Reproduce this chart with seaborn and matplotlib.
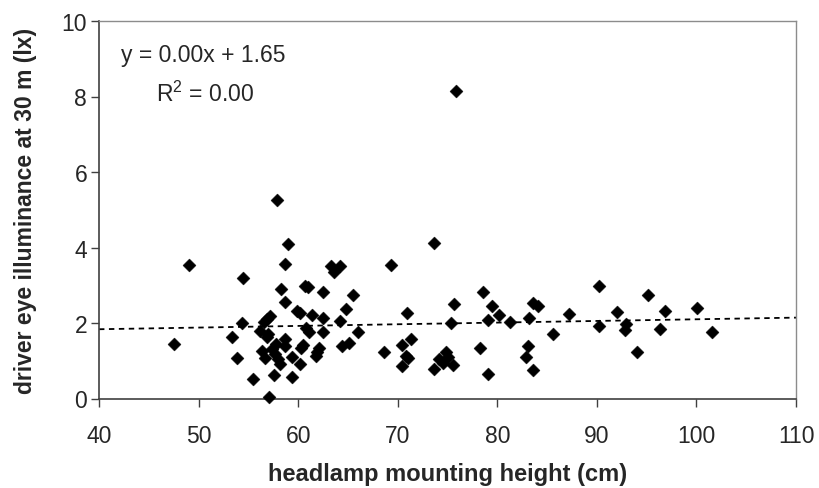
import matplotlib
matplotlib.use("Agg")
import matplotlib.pyplot as plt
import seaborn as sns
import numpy as np
import pandas as pd

# headlamp mounting height (cm)
height_cm = [
    57.9, 59.0, 58.7, 49.0, 54.5, 58.3, 58.7, 60.7, 61.0, 59.9,
    60.2, 54.4, 57.2, 56.9, 56.6, 56.2, 57.0, 53.4, 47.5, 58.7,
    58.7, 60.8, 60.5, 60.3, 56.4, 56.7, 57.4, 57.7, 58.0, 58.2,
    53.9, 59.4, 60.2, 55.5, 57.6, 59.4, 57.1, 57.8, 56.9,
    75.9, 73.6, 69.3, 63.3, 64.2, 63.6, 62.5, 65.5, 64.8, 61.4,
    62.5, 64.2, 61.1, 62.5, 66.0, 62.1, 61.9, 61.8, 64.4, 65.1,
    70.9, 71.3, 70.4, 70.8, 71.0, 70.4, 68.6, 75.7, 75.4, 74.8,
    74.1, 74.5, 75.6, 73.6, 75.0, 78.6, 79.5, 79.1, 80.2, 78.3,
    79.1, 81.3, 83.6, 84.1, 83.2, 83.1, 82.9, 83.6, 85.6, 87.2,
    90.2, 90.2, 92.0, 92.9, 92.8, 94.0, 95.1, 96.8, 96.3, 100.1,
    101.6,
]
# driver eye illuminance at 30 m (lx)
illuminance_lx = [
    5.26, 4.09, 3.56, 3.53, 3.20, 2.91, 2.56, 2.97, 2.96, 2.32,
    2.27, 2.01, 2.19, 2.10, 2.03, 1.79, 1.70, 1.62, 1.44, 1.57,
    1.39, 1.88, 1.42, 1.33, 1.26, 1.06, 1.31, 1.17, 1.04, 0.91,
    1.06, 1.09, 0.91, 0.51, 0.62, 0.58, 0.03, 1.45, 1.62,
    8.15, 4.13, 3.53, 3.50, 3.50, 3.34, 2.81, 2.74, 2.37, 2.22,
    2.12, 2.04, 1.75, 1.75, 1.77, 1.35, 1.22, 1.13, 1.38, 1.48,
    2.26, 1.57, 1.41, 1.13, 1.06, 0.86, 1.24, 2.50, 2.01, 1.22,
    1.04, 0.95, 0.88, 0.78, 1.10, 2.81, 2.45, 2.08, 2.21, 1.35,
    0.66, 2.03, 2.54, 2.45, 2.14, 1.39, 1.09, 0.76, 1.72, 2.25,
    2.97, 1.92, 2.28, 1.97, 1.82, 1.24, 2.74, 2.32, 1.84, 2.41,
    1.77,
]
x_ticks = [40, 50, 60, 70, 80, 90, 100, 110]
y_ticks = [0, 2, 4, 6, 8, 10]
equation_text = "y = 0.00x + 1.65"
r2_text = "R$^2$ = 0.00"
x_label = "headlamp mounting height (cm)"
y_label = "driver eye illuminance at 30 m (lx)"

df = pd.DataFrame({"height": height_cm, "lux": illuminance_lx})

sns.set_style("white")
plt.rcParams["font.family"] = ["Liberation Sans", "DejaVu Sans"]
plt.rcParams["mathtext.fontset"] = "custom"
plt.rcParams["mathtext.rm"] = "Liberation Sans"
plt.rcParams["mathtext.it"] = "Liberation Sans"
plt.rcParams["mathtext.bf"] = "Liberation Sans:bold"

W, H = 820, 489
L, R, T, B = 99, 796, 22, 399.5
fig = plt.figure(figsize=(W / 100, H / 100), dpi=100)
ax = fig.add_axes([L / W, 1 - B / H, (R - L) / W, (B - T) / H])

ax.set_xlim(40, 110)
ax.set_ylim(0, 10)

sns.scatterplot(data=df, x="height", y="lux", marker="D", s=44,
                color="black", edgecolor="black", linewidth=0.3,
                ax=ax, zorder=3, clip_on=False)
sns.regplot(data=df, x="height", y="lux", scatter=False, ci=None,
            truncate=False, ax=ax,
            line_kws=dict(color="black", lw=1.3, linestyle=(0, (3, 2.5)), zorder=2))

ax.set_xlim(40, 110)
ax.set_ylim(0, 10)
ax.set_xticks(x_ticks)
ax.set_yticks(y_ticks)
ax.set_xticklabels([str(v) for v in x_ticks], fontsize=16.5)
ax.set_yticklabels([str(v) for v in y_ticks], fontsize=16.5)
ax.tick_params(axis="both", direction="out", length=5.5, width=1, color="#404040",
               bottom=True, left=True)
ax.tick_params(axis="x", pad=13)
ax.tick_params(axis="y", pad=3)

for side in ["left", "bottom"]:
    ax.spines[side].set_color("#404040")
    ax.spines[side].set_linewidth(1.2)
for side in ["top", "right"]:
    ax.spines[side].set_visible(True)
    ax.spines[side].set_color("#8c8c8c")
    ax.spines[side].set_linewidth(1.0)

ax.set_xlabel(x_label, fontsize=17, fontweight="bold")
ax.set_ylabel(y_label, fontsize=16.5, fontweight="bold")
ah = B - T
aw = R - L
ax.xaxis.set_label_coords(0.5, (B - 463) / ah)
ax.xaxis.label.set_verticalalignment("top")
ax.yaxis.set_label_coords((37 - L) / aw, 0.5)

ax.text(0.149, 0.895, equation_text, transform=ax.transAxes, fontsize=16.5,
        ha="center", va="baseline")
ax.text(0.152, 0.789, r2_text, transform=ax.transAxes, fontsize=16.5,
        ha="center", va="baseline")

fig.savefig("out.png", dpi=100)
